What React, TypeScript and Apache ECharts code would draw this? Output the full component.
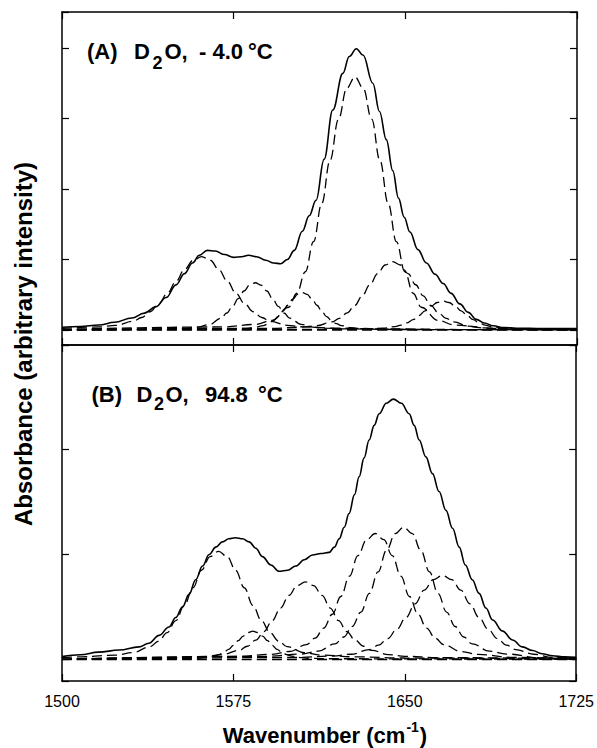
import React, { useEffect, useRef } from "react";
import * as echarts from "echarts";

// ---------- data (wavenumber in cm-1, absorbance in arbitrary units) ----------
const X_MIN = 1500;
const X_MAX = 1725;
const X_STEP = 75;

// Panel A: D2O, -4.0 °C
const TOP_SOLID: number[][] = [
  [1500, 0.04], [1508, 0.05], [1516, 0.07], [1523, 0.11], [1530.5, 0.17], [1536, 0.24], [1541, 0.33],
  [1545.5, 0.46], [1549.8, 0.64], [1553.5, 0.8], [1557, 0.95], [1560, 1.06], [1563.5, 1.13], [1567, 1.12],
  [1571, 1.07], [1575, 1.03], [1578.5, 1.04], [1581.5, 1.06], [1585, 1.04], [1589, 0.99], [1592.5, 0.95],
  [1595.5, 0.94], [1598.5, 1.0], [1601.5, 1.13], [1605, 1.4], [1608, 1.62], [1611, 1.84], [1614.5, 2.42],
  [1618.3, 3.12], [1622.7, 3.64], [1625.5, 3.88], [1628.6, 3.99], [1631.5, 3.9], [1635.8, 3.5],
  [1638.7, 3.1], [1641.7, 2.7], [1644.5, 2.26], [1647, 1.87], [1649.5, 1.6], [1652, 1.39], [1655.5, 1.14],
  [1659.2, 0.95], [1663, 0.79], [1666.5, 0.66], [1670, 0.52], [1673.8, 0.37], [1677.5, 0.25], [1681, 0.15],
  [1684.5, 0.1], [1688.4, 0.06], [1693, 0.035], [1698.6, 0.025], [1710, 0.02], [1725, 0.02],
];
const TOP_BAND_1561: number[][] = [
  [1500, 0.024], [1516, 0.043], [1523.5, 0.066], [1531, 0.123], [1534.8, 0.177], [1538.5, 0.259],
  [1542.3, 0.373], [1546, 0.52], [1549.8, 0.688], [1553.5, 0.858], [1557.3, 0.989], [1561, 1.04],
  [1564.8, 0.989], [1568.5, 0.858], [1572.3, 0.688], [1576, 0.52], [1579.8, 0.373], [1583.5, 0.259],
  [1587.3, 0.177], [1591, 0.123], [1598.5, 0.066], [1606, 0.043], [1621, 0.025], [1641, 0.015],
  [1681, 0.006], [1725, 0.004],
];
const TOP_BAND_1584: number[][] = [
  [1500, 0.004], [1544.5, 0.016], [1554.5, 0.027], [1559.5, 0.042], [1564.5, 0.079], [1569.5, 0.167],
  [1572, 0.241], [1574.5, 0.335], [1577, 0.444], [1579.5, 0.553], [1582, 0.637], [1584.5, 0.67],
  [1587, 0.637], [1589.5, 0.553], [1592, 0.444], [1594.5, 0.335], [1597, 0.241], [1599.5, 0.167],
  [1604.5, 0.079], [1609.5, 0.042], [1614.5, 0.027], [1624.5, 0.016], [1644.5, 0.007], [1725, 0.002],
];
const TOP_BAND_1605: number[][] = [
  [1500, 0.002], [1571, 0.013], [1579.5, 0.022], [1583.8, 0.033], [1588, 0.063], [1590.1, 0.09],
  [1592.3, 0.132], [1594.4, 0.19], [1596.5, 0.265], [1598.6, 0.351], [1600.8, 0.437], [1602.9, 0.504],
  [1605, 0.53], [1607.1, 0.504], [1609.3, 0.437], [1611.4, 0.351], [1613.5, 0.265], [1615.6, 0.19],
  [1617.8, 0.132], [1619.9, 0.09], [1622, 0.063], [1626.3, 0.033], [1630.5, 0.022], [1639, 0.013],
  [1660, 0.005], [1725, 0.002],
];
const TOP_BAND_1628: number[][] = [
  [1500, 0.009], [1570, 0.043], [1584.5, 0.079], [1591.8, 0.136], [1599, 0.323], [1602.6, 0.521],
  [1606.3, 0.826], [1609.9, 1.253], [1613.5, 1.795], [1617.1, 2.405], [1620.8, 2.99], [1624.4, 3.428],
  [1628, 3.59], [1631.6, 3.428], [1635.3, 2.99], [1638.9, 2.405], [1642.5, 1.795], [1646.1, 1.253],
  [1649.8, 0.826], [1653.4, 0.521], [1657, 0.323], [1664.3, 0.136], [1671.5, 0.07], [1686, 0.025],
  [1700.5, 0.01], [1725, 0.006],
];
const TOP_BAND_1644: number[][] = [
  [1500, 0.003], [1591.3, 0.023], [1604.6, 0.04], [1611.3, 0.061], [1617.9, 0.114], [1621.2, 0.165],
  [1624.6, 0.242], [1627.9, 0.348], [1631.2, 0.485], [1634.5, 0.642], [1637.9, 0.8], [1641.2, 0.922],
  [1644.5, 0.97], [1647.8, 0.922], [1651.2, 0.8], [1654.5, 0.642], [1657.8, 0.485], [1661.1, 0.348],
  [1664.5, 0.242], [1667.8, 0.165], [1671.1, 0.114], [1677.8, 0.055], [1684.4, 0.03], [1697.7, 0.01],
  [1725, 0.005],
];
const TOP_BAND_1666: number[][] = [
  [1500, 0.001], [1624.5, 0.01], [1635, 0.017], [1640.3, 0.026], [1645.5, 0.048], [1648.1, 0.07],
  [1650.8, 0.102], [1653.4, 0.147], [1656, 0.205], [1658.6, 0.271], [1661.3, 0.338], [1663.9, 0.39],
  [1666.5, 0.41], [1669.1, 0.39], [1671.8, 0.338], [1674.4, 0.271], [1677, 0.205], [1679.6, 0.147],
  [1682.3, 0.102], [1684.9, 0.07], [1687.5, 0.048], [1692.8, 0.026], [1698, 0.01], [1708.5, 0.005],
  [1725, 0.003],
];
const TOP_BASELINE: number[][] = [[1500, 0], [1725, 0]];

// Panel B: D2O, 94.8 °C
const BOT_SOLID: number[][] = [
  [1500, 0.027], [1508, 0.045], [1516, 0.07], [1525, 0.09], [1533.7, 0.12], [1538, 0.155], [1542.5, 0.23],
  [1546.8, 0.31], [1549.8, 0.4], [1552.7, 0.5], [1555.6, 0.62], [1558.5, 0.76], [1561.5, 0.89],
  [1564.4, 1.0], [1567.3, 1.07], [1570.2, 1.12], [1573, 1.15], [1575.9, 1.16], [1579, 1.15], [1581.9, 1.12],
  [1584.8, 1.06], [1587.7, 0.98], [1591.4, 0.9], [1595, 0.84], [1598.7, 0.85], [1602.3, 0.89], [1606, 0.95],
  [1609.6, 0.995], [1613.3, 1.01], [1616.9, 1.02], [1619.2, 1.07], [1621.3, 1.15], [1623.5, 1.26],
  [1625.6, 1.39], [1628, 1.57], [1630, 1.74], [1632.2, 1.92], [1634.4, 2.09], [1636.6, 2.23], [1638.8, 2.34],
  [1641.9, 2.44], [1645, 2.48], [1648.5, 2.44], [1651.9, 2.34], [1654.1, 2.23], [1656.3, 2.09],
  [1659.2, 1.93], [1662.1, 1.77], [1665, 1.6], [1668, 1.42], [1670.9, 1.25], [1673.8, 1.07], [1676.5, 0.9],
  [1679.5, 0.76], [1682.5, 0.63], [1685.5, 0.49], [1688.4, 0.376], [1692.8, 0.27], [1697.1, 0.186],
  [1701.5, 0.12], [1705.9, 0.085], [1710, 0.055], [1714.6, 0.035], [1720, 0.025], [1725, 0.02],
];
const BOT_BAND_1568: number[][] = [
  [1500, 0.019], [1508.5, 0.025], [1523.5, 0.042], [1531, 0.065], [1538.5, 0.122], [1542.3, 0.175],
  [1546, 0.256], [1549.8, 0.37], [1553.5, 0.515], [1557.3, 0.682], [1561, 0.85], [1564.8, 0.98],
  [1568.5, 1.03], [1572.3, 0.98], [1576, 0.85], [1579.8, 0.682], [1583.5, 0.515], [1587.3, 0.37],
  [1591, 0.256], [1594.8, 0.175], [1598.5, 0.122], [1606, 0.065], [1613.5, 0.042], [1628.5, 0.025],
  [1650, 0.014], [1725, 0.004],
];
const BOT_BAND_1583: number[][] = [
  [1500, 0.001], [1549.5, 0.007], [1558, 0.011], [1562.3, 0.017], [1566.5, 0.032], [1568.6, 0.046],
  [1570.8, 0.067], [1572.9, 0.097], [1575, 0.135], [1577.1, 0.179], [1579.3, 0.223], [1581.4, 0.257],
  [1583.5, 0.27], [1585.6, 0.257], [1587.8, 0.223], [1589.9, 0.179], [1592, 0.135], [1594.1, 0.097],
  [1596.3, 0.067], [1598.4, 0.046], [1600.5, 0.032], [1604.8, 0.017], [1609, 0.011], [1617.5, 0.007],
  [1725, 0.001],
];
const BOT_BAND_1606: number[][] = [
  [1500, 0.002], [1548.5, 0.018], [1563, 0.03], [1570.3, 0.047], [1577.5, 0.087], [1581.1, 0.126],
  [1584.8, 0.184], [1588.4, 0.266], [1592, 0.37], [1595.6, 0.49], [1599.3, 0.61], [1602.9, 0.704],
  [1606.5, 0.74], [1610.1, 0.704], [1613.8, 0.61], [1617.4, 0.49], [1621, 0.37], [1624.6, 0.266],
  [1628.3, 0.184], [1631.9, 0.126], [1635.5, 0.087], [1642.8, 0.047], [1650, 0.03], [1664.5, 0.018],
  [1725, 0.005],
];
const BOT_BAND_1637: number[][] = [
  [1500, 0.002], [1577, 0.029], [1592, 0.049], [1599.5, 0.076], [1607, 0.142], [1610.8, 0.204],
  [1614.5, 0.299], [1618.3, 0.431], [1622, 0.6], [1625.8, 0.794], [1629.5, 0.99], [1633.3, 1.141],
  [1637, 1.2], [1640.8, 1.141], [1644.5, 0.99], [1648.3, 0.794], [1652, 0.6], [1655.8, 0.431],
  [1659.5, 0.299], [1663.3, 0.204], [1667, 0.142], [1674.5, 0.076], [1682, 0.049], [1697, 0.02],
  [1725, 0.005],
];
const BOT_BAND_1649: number[][] = [
  [1500, 0.002], [1589.5, 0.03], [1604.5, 0.052], [1612, 0.079], [1619.5, 0.149], [1623.3, 0.214],
  [1627, 0.314], [1630.8, 0.452], [1634.5, 0.63], [1638.3, 0.834], [1642, 1.04], [1645.8, 1.198],
  [1649.5, 1.26], [1653.3, 1.198], [1657, 1.04], [1660.8, 0.834], [1664.5, 0.63], [1668.3, 0.452],
  [1672, 0.314], [1675.8, 0.214], [1679.5, 0.149], [1687, 0.079], [1694.5, 0.052], [1709.5, 0.015],
  [1725, 0.008],
];
const BOT_BAND_1666: number[][] = [
  [1500, 0.002], [1602.5, 0.019], [1618.5, 0.033], [1626.5, 0.05], [1634.5, 0.094], [1638.5, 0.136],
  [1642.5, 0.199], [1646.5, 0.287], [1650.5, 0.4], [1654.5, 0.53], [1658.5, 0.66], [1662.5, 0.761],
  [1666.5, 0.8], [1670.5, 0.761], [1674.5, 0.66], [1678.5, 0.53], [1682.5, 0.4], [1686.5, 0.287],
  [1690.5, 0.199], [1694.5, 0.136], [1698.5, 0.094], [1706.5, 0.05], [1714.5, 0.02], [1725, 0.01],
];
const BOT_BASELINE: number[][] = [[1500, 0], [1725, 0]];

const TOP_BANDS = [TOP_BAND_1561, TOP_BAND_1584, TOP_BAND_1605, TOP_BAND_1628, TOP_BAND_1644, TOP_BAND_1666, TOP_BASELINE];
const BOT_BANDS = [BOT_BAND_1568, BOT_BAND_1583, BOT_BAND_1606, BOT_BAND_1637, BOT_BAND_1649, BOT_BAND_1666, BOT_BASELINE];

const TOP_LABEL = ["(A)", "D", "2", "O,", "- 4.0", "°C"];
const BOT_LABEL = ["(B)", "D", "2", "O,", "94.8", "°C"];
const Y_TITLE = "Absorbance (arbitrary intensity)";
const X_TITLE = ["Wavenumber (cm", "-1", ")"];

// ---------- layout / style ----------
const FONT = '"Liberation Sans", Arial, Helvetica, sans-serif';
const INK = "#000";
const W = 597;
const H = 748;

export default function App() {
  const ref = useRef<HTMLDivElement>(null);

  useEffect(() => {
    if (!ref.current) return;
    const chart = echarts.init(ref.current, null, { renderer: "svg" });

    const ctx = document.createElement("canvas").getContext("2d");
    const measure = (t: string, size: number) => {
      if (!ctx) return t.length * size * 0.55;
      ctx.font = `bold ${size}px ${FONT}`;
      return ctx.measureText(t).width;
    };

    const axisLine = { show: true, onZero: false, lineStyle: { color: INK, width: 1.5 } };
    const axisTick = { show: true, inside: true, length: 7, lineStyle: { color: INK, width: 1.2 } };

    const xAxis = (gridIndex: number, position: string, labels: boolean) => ({
      type: "value",
      gridIndex,
      position,
      min: X_MIN,
      max: X_MAX,
      interval: X_STEP,
      axisLine,
      axisTick,
      splitLine: { show: false },
      axisLabel: labels
        ? {
            show: true,
            color: INK,
            fontSize: 16,
            fontFamily: FONT,
            margin: 12,
            showMinLabel: true,
            showMaxLabel: true,
            formatter: (v: number) => String(v),
          }
        : { show: false },
    });
    const yAxis = (gridIndex: number, position: string, min: number, max: number, splitNumber: number) => ({
      type: "value",
      gridIndex,
      position,
      min,
      max,
      splitNumber,
      axisLine,
      axisTick,
      splitLine: { show: false },
      axisLabel: { show: false },
    });

    const line = (data: number[][], xi: number, yi: number, dashed: boolean) => ({
      type: "line",
      data,
      xAxisIndex: xi,
      yAxisIndex: yi,
      showSymbol: false,
      symbol: "none",
      smooth: 0.4,
      smoothMonotone: "x",
      silent: true,
      z: dashed ? 2 : 3,
      lineStyle: dashed ? { color: INK, width: 1.3, type: [10, 5] } : { color: INK, width: 1.6, type: "solid" },
    });

    const series: any[] = [];
    TOP_BANDS.forEach((b) => series.push(line(b, 0, 0, true)));
    series.push(line(TOP_SOLID, 0, 0, false));
    BOT_BANDS.forEach((b) => series.push(line(b, 2, 2, true)));
    series.push(line(BOT_SOLID, 2, 2, false));

    const txt = (text: string, x: number, y: number, size: number, align = "left", rotation = 0) => ({
      type: "text",
      x,
      y,
      rotation,
      silent: true,
      style: {
        text,
        fill: INK,
        fontSize: size,
        fontWeight: "bold",
        fontFamily: FONT,
        align,
        textAlign: align,
        verticalAlign: "middle",
        textVerticalAlign: "middle",
      },
    });

    const panelLabel = (parts: string[], xs: number[], yMain: number, ySub: number) =>
      parts.map((p, i) => (i === 2 ? txt(p, xs[i], ySub, 18) : txt(p, xs[i], yMain, 22)));

    const tSize = 22;
    const sSize = 14;
    const wMain = measure(X_TITLE[0], tSize);
    const wSup = measure(X_TITLE[1], sSize);
    const wPar = measure(X_TITLE[2], tSize);
    const xStart = 324 - (wMain + wSup + wPar) / 2;

    const graphic = [
      ...panelLabel(TOP_LABEL, [87, 134, 152.5, 164.5, 199, 248], 51.7, 63.4),
      ...panelLabel(BOT_LABEL, [91.5, 136.5, 154, 165.5, 205, 258], 394.1, 403.9),
      txt(Y_TITLE, 23.5, 344, 24, "center", Math.PI / 2),
      txt(X_TITLE[0], xStart, 735, tSize),
      txt(X_TITLE[1], xStart + wMain + 1, 727, sSize),
      txt(X_TITLE[2], xStart + wMain + wSup + 2, 735, tSize),
    ];

    chart.setOption({
      animation: false,
      backgroundColor: "#fff",
      grid: [
        { left: 62, right: 20, top: 12, height: 333 },
        { left: 62, right: 20, top: 345, height: 336 },
      ],
      xAxis: [xAxis(0, "bottom", false), xAxis(0, "top", false), xAxis(1, "bottom", true), xAxis(1, "top", false)],
      yAxis: [
        yAxis(0, "left", -0.2128, 4.5106, 5),
        yAxis(0, "right", -0.2128, 4.5106, 5),
        yAxis(1, "left", -0.2048, 2.995, 3),
        yAxis(1, "right", -0.2048, 2.995, 3),
      ],
      series,
      graphic,
    });

    return () => chart.dispose();
  }, []);

  return <div ref={ref} style={{ position: "absolute", left: 0, top: 0, width: W, height: H }} />;
}
